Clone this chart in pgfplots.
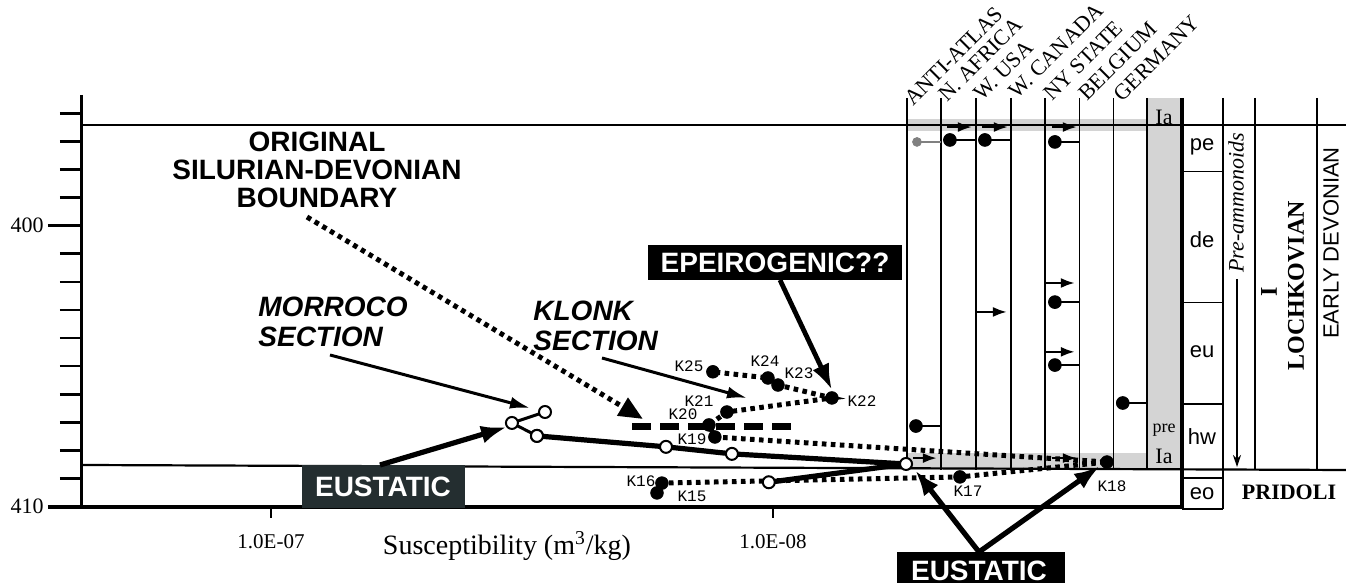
\documentclass[border=0pt]{standalone}
\usepackage{fontspec}
\setmainfont{Liberation Serif}
\setsansfont{Liberation Sans}
\setmonofont{Liberation Mono}
\usepackage{pgfplots}
\usepackage{pgfplotstable}
\pgfplotsset{compat=1.18}
\usetikzlibrary{arrows.meta,calc,backgrounds}
\definecolor{eusteal}{RGB}{36,46,48}
\definecolor{stip}{RGB}{212,212,212}

% Morocco section (susceptibility m3/kg, age Ma)
\pgfplotstableread{
chi age
1.019e-8 409.13
5.43e-9 408.48
1.207e-8 408.12
1.633e-8 407.87
2.952e-8 407.48
}\moroccoA
\pgfplotstableread{
chi age
2.952e-8 407.48
3.311e-8 407.02
2.845e-8 406.63
}\moroccoB
% Klonk section K15..K25
\pgfplotstableread{
chi age
1.702e-8 409.51
1.664e-8 409.16
4.24e-9 408.94
2.16e-9 408.41
1.305e-8 407.52
1.341e-8 407.09
1.235e-8 406.63
7.63e-9 406.13
9.77e-9 405.67
1.023e-8 405.42
1.317e-8 405.20
}\klonk

\newcommand\fs[1]{\fontsize{#1}{#1}\selectfont}
\tikzset{
  kdots/.style={line width=2.5pt, dash pattern=on 2.3pt off 2.2pt},
  colarrow/.style={line width=1.2pt, -{Latex[length=7pt,width=5pt]}},
  colline/.style={line width=1.2pt},
}

\begin{document}
\begin{tikzpicture}
\begin{axis}[name=ax, scale only axis, width=549pt, height=205.85pt,
  xmode=log, x dir=reverse, y dir=reverse,
  xmin=1.545e-9, xmax=2.379e-7, ymin=395.35, ymax=410,
  axis line style={draw=none}, xtick=\empty, ytick=\empty, clip=false]
  % Morocco
  \addplot[line width=2.6pt, line join=round, no marks] table[x=chi,y=age] {\moroccoA};
  \addplot[line width=1.5pt, line join=round, no marks] table[x=chi,y=age] {\moroccoB};
  \addplot[only marks, mark=*, mark size=3pt, mark options={fill=white, draw=black, line width=1pt}] table[x=chi,y=age] {\moroccoA};
  \addplot[only marks, mark=*, mark size=3pt, mark options={fill=white, draw=black, line width=1pt}] table[x=chi,y=age] {\moroccoB};
  % Klonk
  \addplot[kdots, mark=*, mark size=3.2pt, mark options={solid, fill=black, line width=0.3pt}] table[x=chi,y=age] {\klonk};
  % Regional columns: markers with lines
  \addplot[colline] coordinates {(4.44e-9,396.95) (3.946e-9,396.95)};
  \addplot[colline] coordinates {(3.782e-9,396.95) (3.362e-9,396.95)};
  \addplot[colline] coordinates {(2.743e-9,397.02) (2.454e-9,397.02)};
  \addplot[colline] coordinates {(2.743e-9,402.72) (2.454e-9,402.72)};
  \addplot[colline] coordinates {(2.743e-9,404.96) (2.454e-9,404.96)};
  \addplot[colline] coordinates {(5.188e-9,407.13) (4.627e-9,407.13)};
  \addplot[colline] coordinates {(2.009e-9,406.31) (1.799e-9,406.31)};
  \addplot[line width=0.8pt, gray] coordinates {(5.164e-9,397.02) (4.627e-9,397.02)};
  \addplot[only marks, mark=*, mark size=3.2pt] coordinates {(4.44e-9,396.95) (3.782e-9,396.95) (2.743e-9,397.02) (2.743e-9,402.72) (2.743e-9,404.96) (5.188e-9,407.13) (2.009e-9,406.31)};
  \addplot[only marks, mark=*, mark size=2.2pt, gray, mark options={fill=gray}] coordinates {(5.164e-9,397.02)};
  % arrows in columns
  \addplot[colarrow] coordinates {(4.501e-9,396.49) (4.013e-9,396.49)};
  \addplot[colarrow] coordinates {(3.834e-9,396.49) (3.403e-9,396.49)};
  \addplot[colarrow] coordinates {(2.781e-9,396.49) (2.48e-9,396.49)};
  \addplot[colarrow] coordinates {(2.872e-9,402.04) (2.503e-9,402.04)};
  \addplot[colarrow] coordinates {(3.922e-9,403.07) (3.418e-9,403.07)};
  \addplot[colarrow] coordinates {(2.872e-9,404.49) (2.503e-9,404.49)};
  \addplot[colarrow] coordinates {(5.26e-9,408.27) (4.713e-9,408.27)};
  \addplot[colarrow] coordinates {(2.781e-9,408.27) (2.48e-9,408.27)};
  \coordinate (P0) at (axis cs:2.379e-7,410);
\end{axis}
\coordinate (O) at ($(P0)+(-41pt,253.35pt)$);
\begin{scope}[shift={(O)}, x=0.5pt, y=-0.5pt]
  \begin{scope}[on background layer]
    % stippled bands
    \fill[stip] (906,119) rectangle (1147,131);
    \fill[stip] (1147,98) rectangle (1181.7,470);
    \fill[stip] (906,453) rectangle (1147,470);
    % column lines
    \foreach \cx in {906.7,941,975.7,1010.7,1045,1079.3,1113.3,1146.7}
      \draw[line width=0.8pt] (\cx,98) -- (\cx,470);
    \draw[line width=2pt] (1181.7,98) -- (1181.7,509);
    \draw[line width=0.9pt] (1222.7,98) -- (1222.7,509);
    \draw[line width=0.8pt] (1255,98) -- (1255,470);
    \draw[line width=0.8pt] (1316.7,98) -- (1316.7,470);
    \foreach \hy in {171.7,302.7,404}
      \draw[line width=0.8pt] (1181.7,\hy) -- (1222.7,\hy);
    \draw[line width=0.9pt] (1181.7,478) -- (1222.7,478);
    \draw[line width=0.9pt] (1181.7,509) -- (1222.7,509);
    % horizontal boundaries
    \draw[line width=1pt] (82,125) -- (1346,125);
    \draw[line width=1.1pt] (82,465) -- (1346,470);
    % original S-D boundary (dashed)
    \draw[line width=3.5pt, dash pattern=on 9.5pt off 4.5pt] (632,427) -- (797,427);
  \end{scope}
  % axis lines and ticks
  \draw[line width=1.5pt] (82,95) -- (82,507);
  \draw[line width=2pt] (48,507) -- (1182,507);
  \foreach \a in {396,397,398,399,401,402,403,404,405,406,407,408,409}
    \draw[line width=1.3pt] (60,{225.7+28.1*(\a-400)}) -- (82,{225.7+28.1*(\a-400)});
  \draw[line width=1.8pt] (48,225.7) -- (82,225.7);
  \draw[line width=0.8pt] (271,507) -- (271,518);
  \draw[line width=0.8pt] (773,507) -- (773,518);
  \node[anchor=east, inner sep=0, font=\fs{11}] at (44,225.7) {400};
  \node[anchor=east, inner sep=0, font=\fs{11}] at (44,506.7) {410};
  \node[font=\fs{10.5}] at (271,542) {1.0E-07};
  \node[font=\fs{10.5}] at (773,542) {1.0E-08};
  \node[font=\fs{14}] at (507,546) {Susceptibility (m\textsuperscript{3}/kg)};
  % Original boundary annotation
  \node[align=center, font=\sffamily\bfseries\fontsize{14}{14}\selectfont] at (317,170) {ORIGINAL\\SILURIAN-DEVONIAN\\BOUNDARY};
  \draw[kdots, -{Triangle[length=12pt,width=10pt]}] (307,217) -- (643,419);
  % Morocco
  \node[anchor=north west, align=left, inner sep=0, font=\sffamily\bfseries\itshape\fontsize{14}{15}\selectfont] at (258,297) {MORROCO\\SECTION};
  \draw[line width=1.5pt, -{Latex[length=10pt,width=6pt]}] (330,355) -- (530,408);
  % Klonk
  \node[anchor=north west, align=left, inner sep=0, font=\sffamily\bfseries\itshape\fontsize{14}{15}\selectfont] at (533,301) {KLONK\\SECTION};
  \draw[line width=1.5pt, -{Latex[length=10pt,width=6pt]}] (602,358) -- (747,398);
  % Epeirogenic
  \fill[black] (648,245) rectangle (902,280);
  \node[text=white, font=\sffamily\bfseries\fs{14}] at (775,263) {EPEIROGENIC??};
  \draw[line width=2.4pt, -{Latex[length=13pt,width=9pt]}] (780,280) -- (832,390);
  % Eustatic left
  \fill[eusteal] (302,465) rectangle (465,508);
  \node[text=white, font=\sffamily\bfseries\fs{14}] at (383,487) {EUSTATIC};
  \draw[line width=2.6pt, -{Latex[length=13pt,width=9pt]}] (380,465) -- (507,427);
  % Eustatic right
  \fill[black] (897,552) rectangle (1065,600);
  \node[text=white, font=\sffamily\bfseries\fs{14}] at (979,571) {EUSTATIC};
  \draw[line width=2.6pt, -{Latex[length=13pt,width=9pt]}] (979,552) -- (915,470);
  \draw[line width=2.6pt, -{Latex[length=13pt,width=9pt]}] (979,552) -- (1100,466);
  % K labels
  \begin{scope}[every node/.style={font=\ttfamily\fs{8}, inner sep=0}]
    \node at (689,366) {K25};
    \node at (765,361) {K24};
    \node at (799,373) {K23};
    \node at (862,401) {K22};
    \node at (699,401) {K21};
    \node at (683,414) {K20};
    \node at (692,439) {K19};
    \node at (641,481) {K16};
    \node at (692,496) {K15};
    \node at (968,491) {K17};
    \node at (1112,486) {K18};
  \end{scope}
  % region column labels
  \begin{scope}[every node/.style={rotate=45, anchor=base west, inner sep=0, font=\fs{11}}]
    \node at (913,107) {ANTI-ATLAS};
    \node at (947,103) {N. AFRICA};
    \node at (982,102) {W. USA};
    \node at (1017,100) {W. CANADA};
    \node at (1052,102) {NY STATE};
    \node at (1087,102) {BELGIUM};
    \node at (1122,103) {GERMANY};
  \end{scope}
  % right stratigraphic columns
  \begin{scope}[every node/.style={font=\sffamily\fs{11}, inner sep=0}]
    \node at (1202,147) {pe};
    \node at (1202,240) {de};
    \node at (1202,352) {eu};
    \node at (1202,437) {hw};
    \node at (1202,494) {eo};
  \end{scope}
  \node[font=\fs{11}, inner sep=0] at (1164,117) {Ia};
  \node[font=\fs{9}, inner sep=0] at (1164,430) {pre};
  \node[font=\fs{11}, inner sep=0] at (1164,456) {Ia};
  \node[rotate=90, font=\itshape\fs{11}, inner sep=0] at (1236,203) {Pre-ammonoids};
  \draw[line width=0.6pt, -{Stealth[length=6pt,width=4pt]}] (1237,279) -- (1237,467);
  \node[rotate=90, font=\bfseries\fs{12}, inner sep=0] at (1269,292) {I};
  \node[rotate=90, font=\bfseries\fs{12}, inner sep=0] at (1296,286) {LOCHKOVIAN};
  \node[rotate=90, font=\sffamily\fs{11}, inner sep=0] at (1331,243) {EARLY DEVONIAN};
  \node[font=\bfseries\fs{11}, inner sep=0] at (1289,492) {PRIDOLI};
\end{scope}
\pgfresetboundingbox
\path[use as bounding box] (O) rectangle ++(673pt,-291.5pt);
\end{tikzpicture}
\end{document}
